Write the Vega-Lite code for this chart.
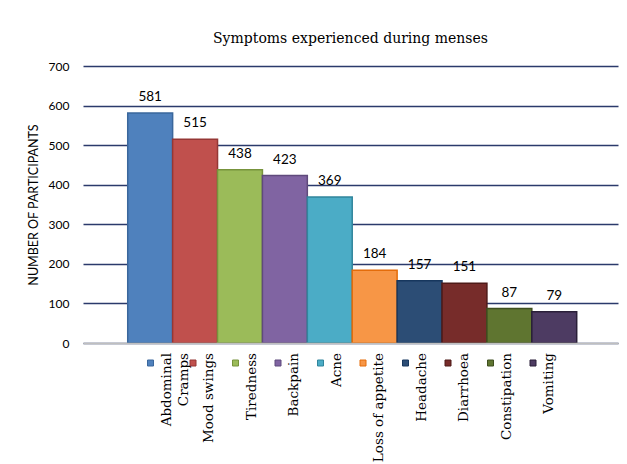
{
  "$schema": "https://vega.github.io/schema/vega-lite/v6.json",
  "width": 535,
  "height": 277,
  "autosize": {"type": "none"},
  "padding": {"left": 83, "top": 66, "right": 9, "bottom": 121},
  "background": "white",
  "config": {"view": {"stroke": null}},
  "title": {"text": "Symptoms experienced during menses", "font": "DejaVu Serif", "fontSize": 14, "fontWeight": "normal", "color": "#000000", "baseline": "alphabetic", "offset": 3, "anchor": "middle"},
  "data": {"values": [
    {"symptom": "Abdominal Cramps", "label": "Abdominal\nCramps", "count": 581},
    {"symptom": "Mood swings", "label": "Mood swings", "count": 515},
    {"symptom": "Tiredness", "label": "Tiredness", "count": 438},
    {"symptom": "Backpain", "label": "Backpain", "count": 423},
    {"symptom": "Acne", "label": "Acne", "count": 369},
    {"symptom": "Loss of appetite", "label": "Loss of appetite", "count": 184},
    {"symptom": "Headache", "label": "Headache", "count": 157},
    {"symptom": "Diarrhoea", "label": "Diarrhoea", "count": 151},
    {"symptom": "Constipation", "label": "Constipation", "count": 87},
    {"symptom": "Vomiting", "label": "Vomiting", "count": 79}
  ]},
  "layer": [
    {
      "layer": [
        {
          "mark": {"type": "bar", "strokeWidth": 1.5},
          "encoding": {
            "x": {"field": "symptom", "type": "nominal", "sort": null,
                  "scale": {"type": "band", "paddingInner": 0, "paddingOuter": 0.958, "align": 0.52},
                  "axis": {"title": null, "labels": false, "ticks": false, "domainColor": "#BFBFBF", "domainWidth": 1.5, "zindex": 1}},
            "y": {"field": "count", "type": "quantitative",
                  "scale": {"domain": [0, 700], "nice": false},
                  "axis": {"title": "NUMBER OF PARTICIPANTS", "titleFont": "Lato", "titleFontSize": 12.5, "titleFontWeight": "normal", "titleColor": "#000000", "titlePadding": 8,
                           "values": [0, 100, 200, 300, 400, 500, 600, 700], "tickCount": 20, "labelOverlap": false, "labelFont": "Lato", "labelFontSize": 12, "labelColor": "#000000", "labelPadding": 14,
                           "ticks": false, "domain": false, "grid": true, "gridColor": "#2B3A6B", "gridWidth": 1.5}},
            "fill": {"field": "symptom", "type": "nominal", "sort": null, "legend": null,
                     "scale": {"domain": ["Abdominal Cramps", "Mood swings", "Tiredness", "Backpain", "Acne", "Loss of appetite", "Headache", "Diarrhoea", "Constipation", "Vomiting"],
                               "range": ["#4F81BD", "#C0504D", "#9BBB59", "#8064A2", "#4BACC6", "#F79646", "#2C4D75", "#772C2A", "#5F7530", "#4D3B62"]}},
            "stroke": {"field": "symptom", "type": "nominal", "sort": null, "legend": null,
                       "scale": {"domain": ["Abdominal Cramps", "Mood swings", "Tiredness", "Backpain", "Acne", "Loss of appetite", "Headache", "Diarrhoea", "Constipation", "Vomiting"],
                                 "range": ["#3A679C", "#953735", "#77933C", "#5F4A7C", "#31859C", "#E46C0A", "#17375E", "#4F1A18", "#3F4F1F", "#2A1F38"]}}
          }
        },
        {
          "mark": {"type": "text", "font": "Lato", "fontSize": 13.5, "baseline": "alphabetic", "dy": -12, "color": "#000000"},
          "encoding": {
            "x": {"field": "symptom", "type": "nominal", "sort": null},
            "y": {"field": "count", "type": "quantitative"},
            "text": {"field": "count", "type": "quantitative"}
          }
        }
      ]
    },
    {
      "layer": [
        {
          "mark": {"type": "text", "font": "DejaVu Serif", "fontSize": 13.5, "angle": 270, "align": "right", "baseline": "bottom", "lineBreak": "\n", "lineHeight": 17, "color": "#000000", "xOffset": 6, "yOffset": 10},
          "encoding": {
            "x": {"field": "symptom", "type": "nominal", "sort": null,
                  "scale": {"type": "point", "padding": 0, "range": [84.5, 467]}, "axis": null},
            "y": {"datum": 0, "type": "quantitative", "axis": null},
            "text": {"field": "label", "type": "nominal"}
          }
        },
        {
          "mark": {"type": "point", "shape": "square", "size": 36, "filled": true, "strokeWidth": 1, "opacity": 1, "xOffset": -17, "yOffset": 20},
          "encoding": {
            "x": {"field": "symptom", "type": "nominal", "sort": null},
            "y": {"datum": 0, "type": "quantitative", "axis": null},
            "fill": {"field": "symptom", "type": "nominal", "sort": null, "legend": null},
            "stroke": {"field": "symptom", "type": "nominal", "sort": null, "legend": null}
          }
        }
      ]
    }
  ],
  "resolve": {"scale": {"x": "independent"}, "axis": {"y": "independent"}}
}
